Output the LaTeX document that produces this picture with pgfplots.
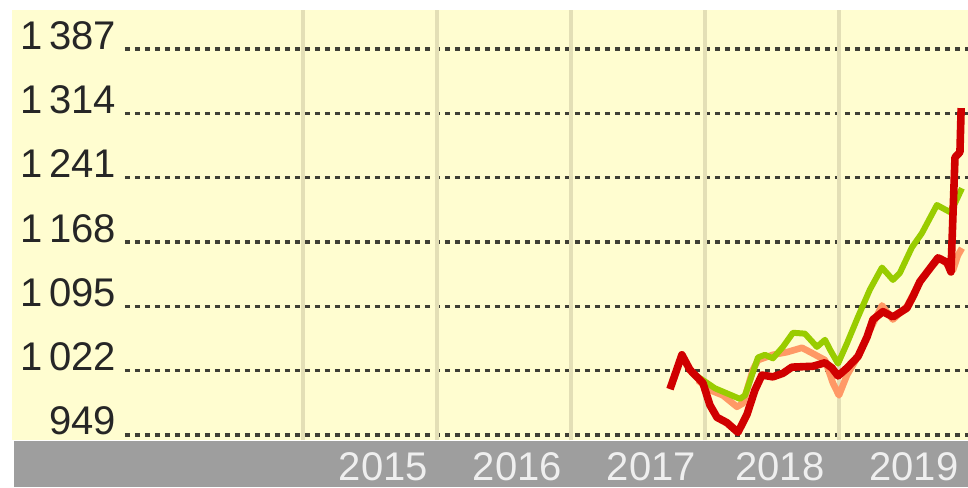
\documentclass[border=0pt]{standalone}
\usepackage{fontspec}
\setmainfont{Liberation Sans}
\usepackage{pgfplots}
\pgfplotsset{compat=1.18}
\definecolor{bgyellow}{HTML}{FFFDD0}
\definecolor{bargray}{HTML}{9E9E9E}
\definecolor{vgrid}{HTML}{E3DFB6}
\definecolor{hgrid}{HTML}{3F3F35}
\definecolor{redline}{HTML}{D00000}
\definecolor{greenline}{HTML}{99CC00}
\definecolor{salmon}{HTML}{FF9966}
\definecolor{yearlbl}{HTML}{EFEFEF}
\begin{document}
\begin{tikzpicture}
\useasboundingbox (-31.25pt,-11.75pt) rectangle (210.75pt,110pt);
\fill[white] (-31.25pt,-11.75pt) rectangle (210.75pt,110pt);
\fill[bgyellow] (-28.25pt,0pt) rectangle (210.75pt,107.5pt);
\fill[bargray] (-27.75pt,-0.25pt) rectangle (210.75pt,-11.75pt);
\begin{axis}[
  at={(0,0)}, anchor=south west,
  scale only axis, width=210.75pt, height=107.5pt,
  xmin=2013.672, xmax=2019.963, ymin=943.3, ymax=1431.3,
  axis line style={draw=none}, major tick length=0pt,
  /pgf/number format/assume math mode=true,
  ytick={949,1022,1095,1168,1241,1314,1387},
  yticklabels={949,1\,022,1\,095,1\,168,1\,241,1\,314,1\,387},
  yticklabel style={anchor=base east, inner sep=0pt, xshift=-2pt, font=\fontsize{10}{12}\selectfont, text=black!85},
  ymajorgrids, major grid style={hgrid, line width=0.9pt, dash pattern=on 1.25pt off 1.25pt},
  xtick={2015.6,2016.6,2017.6,2018.56,2019.56},
  xticklabels={2015,2016,2017,2018,2019},
  xticklabel style={anchor=base, inner sep=0pt, yshift=-10pt, font=\fontsize{10}{12}\selectfont, text=yearlbl},
  extra x ticks={2015,2016,2017,2018,2019},
  extra x tick labels={},
  extra x tick style={grid=major, major grid style={vgrid, line width=1.1pt, solid}},
  clip=false,
]
\addplot[salmon, line width=1.65pt, line join=round] coordinates {
(2017.948,1011) (2018.037,1000) (2018.134,994) (2018.239,981) (2018.284,985)
(2018.358,1023) (2018.396,1034) (2018.507,1040) (2018.612,1043) (2018.724,1048)
(2018.799,1042) (2018.896,1034) (2018.955,1008) (2019.000,994) (2019.060,1017)
(2019.157,1042) (2019.231,1068) (2019.321,1096) (2019.403,1080) (2019.507,1095)
(2019.604,1123) (2019.679,1138) (2019.754,1150) (2019.813,1142) (2019.851,1136)
(2019.888,1153) (2019.918,1161)};
\addplot[greenline, line width=1.5pt, line join=round] coordinates {
(2017.948,1015) (2018.075,1002) (2018.261,990) (2018.299,994) (2018.396,1037)
(2018.448,1040) (2018.507,1036) (2018.582,1049) (2018.657,1065) (2018.746,1064)
(2018.836,1049) (2018.896,1057) (2018.933,1046) (2018.993,1030) (2019.060,1053)
(2019.142,1083) (2019.231,1114) (2019.321,1139) (2019.403,1125) (2019.455,1133)
(2019.545,1162) (2019.619,1178) (2019.731,1210) (2019.828,1202) (2019.866,1212)
(2019.918,1229)};
\addplot[redline, line width=1.9pt, line join=round] coordinates {
(2017.739,1001) (2017.828,1040) (2017.888,1023) (2017.985,1008) (2018.037,983)
(2018.090,969) (2018.164,963) (2018.246,952) (2018.313,972) (2018.373,1000)
(2018.425,1017) (2018.507,1015) (2018.582,1019) (2018.649,1026) (2018.806,1027)
(2018.896,1031) (2018.948,1025) (2018.993,1016) (2019.060,1025) (2019.142,1038)
(2019.209,1060) (2019.254,1080) (2019.328,1089) (2019.403,1083) (2019.507,1093)
(2019.552,1106) (2019.604,1123) (2019.664,1135) (2019.739,1150) (2019.806,1145)
(2019.836,1134) (2019.866,1264) (2019.903,1270) (2019.912,1320)};
\end{axis}
\end{tikzpicture}
\end{document}
